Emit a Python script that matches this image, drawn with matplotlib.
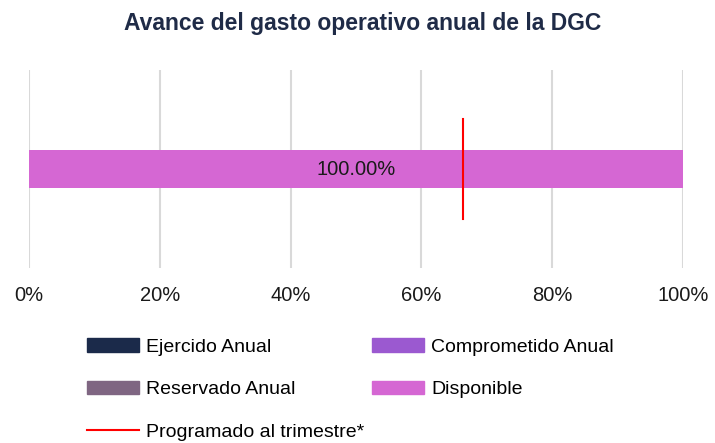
import matplotlib.pyplot as plt
from matplotlib.patches import Patch
from matplotlib.lines import Line2D

plt.rcParams['font.family'] = ['Liberation Sans', 'DejaVu Sans']

# datos
categoria = ['DGC']
series = ['Ejercido Anual', 'Comprometido Anual', 'Reservado Anual', 'Disponible']
valores = [0.0, 0.0, 0.0, 100.0]
colores = ['#1b2a4a', '#9b59d0', '#7f6682', '#d567d3']
programado = 66.3
ticks = [0, 20, 40, 60, 80, 100]
tick_labels = ['0%', '20%', '40%', '60%', '80%', '100%']

fig = plt.figure(figsize=(7.15, 4.43), dpi=100)
ax = fig.add_axes([0.0406, 0.395, 0.9146, 0.447])

left = 0
for nombre, v, c in zip(series, valores, colores):
    bars = ax.barh(0, v, left=left, height=0.374, color=c, label=nombre, zorder=2)
    if v > 0:
        ax.bar_label(bars, labels=['%.2f%%' % v], label_type='center',
                     fontsize=14.5, color='#1a1a1a')
    left += v

ax.plot([programado, programado], [-0.5, 0.5], color='#ff0000', lw=1.5, zorder=3)

ax.set_xlim(0, 100)
ax.set_ylim(-1, 1)
ax.set_yticks([])
ax.set_xticks(ticks)
ax.set_xticklabels(tick_labels, fontsize=14.5, color='#1a1a1a')
ax.tick_params(axis='x', length=0, pad=13)
ax.grid(axis='x', color='#d9d9d9', lw=1.5, zorder=0)
for s in ax.spines.values():
    s.set_visible(False)

fig.text(0.507, 0.948, 'Avance del gasto operativo anual de la DGC',
         ha='center', va='center', fontsize=16.5, fontweight='bold', color='#1f2b47')

handles = [Patch(color=colores[0]), Patch(color=colores[2]),
           Line2D([], [], color='#ff0000', lw=1.5),
           Patch(color=colores[1]), Patch(color=colores[3])]
labels = [series[0], series[2], 'Programado al trimestre*', series[1], series[3]]
fig.legend(handles, labels, ncol=2, loc='upper left', bbox_to_anchor=(0.122, 0.236),
           frameon=False, fontsize=14, handlelength=2.68, handleheight=0.67,
           handletextpad=0.35, columnspacing=0.4, labelspacing=1.28,
           borderaxespad=0, borderpad=0)

fig.savefig('out.png', dpi=100)
